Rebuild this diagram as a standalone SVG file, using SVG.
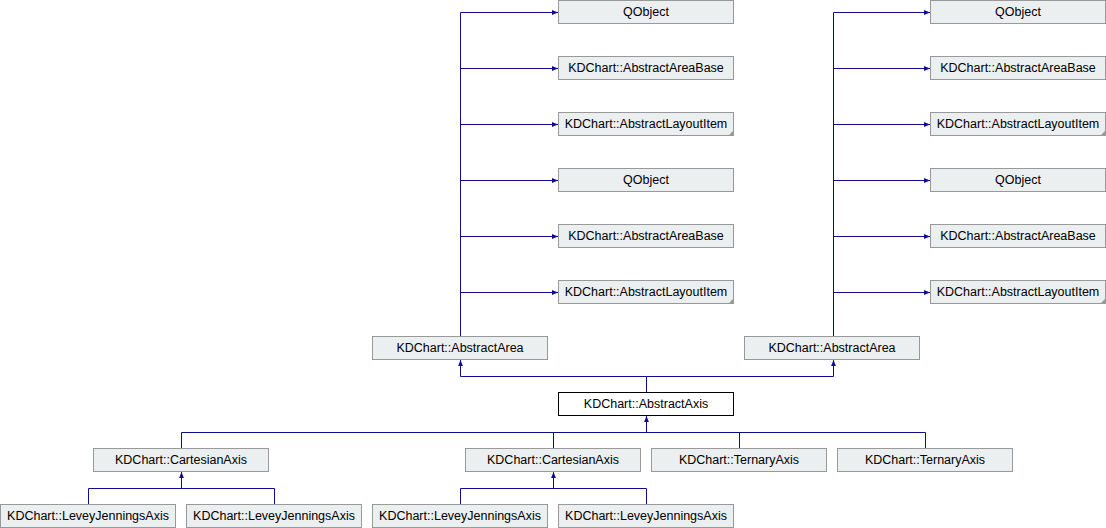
<svg xmlns="http://www.w3.org/2000/svg" width="1106" height="528" viewBox="0 0 1106 528">
<style>
.n rect{fill:#EBEFEF;stroke:#999999;stroke-width:1}
.n.cur rect{fill:#FFFFFF;stroke:#000000}
.n text{font-family:"Liberation Sans",Arial,sans-serif;font-size:12.5px;fill:#000;text-anchor:middle}
.n .fold{fill:#999999;stroke:none}
#edges path{fill:none;stroke:#0E0E8C;stroke-width:1}
</style>
<defs>
<marker id="ah" viewBox="0 0 10 8" refX="10" refY="4" markerWidth="6" markerHeight="5" markerUnits="userSpaceOnUse" orient="auto">
<path d="M0,0 L10,4 L0,8 Z" fill="#0E0E8C"/>
</marker>
</defs>
<rect width="1106" height="528" fill="#FFFFFF"/>
<g id="edges">
<path d="M460.5,336.5 V12.5 H558" marker-end="url(#ah)"/>
<path d="M460.5,68.5 H558" marker-end="url(#ah)"/>
<path d="M460.5,124.5 H558" marker-end="url(#ah)"/>
<path d="M460.5,180.5 H558" marker-end="url(#ah)"/>
<path d="M460.5,236.5 H558" marker-end="url(#ah)"/>
<path d="M460.5,292.5 H558" marker-end="url(#ah)"/>
<path d="M833.5,336.5 V12.5 H930" marker-end="url(#ah)"/>
<path d="M833.5,68.5 H930" marker-end="url(#ah)"/>
<path d="M833.5,124.5 H930" marker-end="url(#ah)"/>
<path d="M833.5,180.5 H930" marker-end="url(#ah)"/>
<path d="M833.5,236.5 H930" marker-end="url(#ah)"/>
<path d="M833.5,292.5 H930" marker-end="url(#ah)"/>
<path d="M646.5,392.5 V376.5 H460.5 V360" marker-end="url(#ah)"/>
<path d="M646.5,376.5 H833.5 V360" marker-end="url(#ah)"/>
<path d="M646.5,432.5 V416" marker-end="url(#ah)"/>
<path d="M181.5,448.5 V432.5 H925.5 V448.5"/>
<path d="M553.5,432.5 V448.5"/>
<path d="M739.5,432.5 V448.5"/>
<path d="M181.5,488.5 V472" marker-end="url(#ah)"/>
<path d="M88.5,504.5 V488.5 H274.5 V504.5"/>
<path d="M553.5,488.5 V472" marker-end="url(#ah)"/>
<path d="M460.5,504.5 V488.5 H646.5 V504.5"/>
</g>
<g id="qobject1" class="n"><rect x="558.5" y="0.5" width="175" height="23"/><text x="646" y="15.5">QObject</text></g>
<g id="areabase1" class="n"><rect x="558.5" y="56.5" width="175" height="23"/><text x="646" y="71.5">KDChart::AbstractAreaBase</text></g>
<g id="layoutitem1" class="n"><rect x="558.5" y="112.5" width="175" height="23"/><path class="fold" d="M733.5,130.5 V135.5 H728.5 Z"/><text x="646" y="127.5">KDChart::AbstractLayoutItem</text></g>
<g id="qobject2" class="n"><rect x="558.5" y="168.5" width="175" height="23"/><text x="646" y="183.5">QObject</text></g>
<g id="areabase2" class="n"><rect x="558.5" y="224.5" width="175" height="23"/><text x="646" y="239.5">KDChart::AbstractAreaBase</text></g>
<g id="layoutitem2" class="n"><rect x="558.5" y="280.5" width="175" height="23"/><path class="fold" d="M733.5,298.5 V303.5 H728.5 Z"/><text x="646" y="295.5">KDChart::AbstractLayoutItem</text></g>
<g id="qobject3" class="n"><rect x="930.5" y="0.5" width="175" height="23"/><text x="1018" y="15.5">QObject</text></g>
<g id="areabase3" class="n"><rect x="930.5" y="56.5" width="175" height="23"/><text x="1018" y="71.5">KDChart::AbstractAreaBase</text></g>
<g id="layoutitem3" class="n"><rect x="930.5" y="112.5" width="175" height="23"/><path class="fold" d="M1105.5,130.5 V135.5 H1100.5 Z"/><text x="1018" y="127.5">KDChart::AbstractLayoutItem</text></g>
<g id="qobject4" class="n"><rect x="930.5" y="168.5" width="175" height="23"/><text x="1018" y="183.5">QObject</text></g>
<g id="areabase4" class="n"><rect x="930.5" y="224.5" width="175" height="23"/><text x="1018" y="239.5">KDChart::AbstractAreaBase</text></g>
<g id="layoutitem4" class="n"><rect x="930.5" y="280.5" width="175" height="23"/><path class="fold" d="M1105.5,298.5 V303.5 H1100.5 Z"/><text x="1018" y="295.5">KDChart::AbstractLayoutItem</text></g>
<g id="area1" class="n"><rect x="372.5" y="336.5" width="175" height="23"/><text x="460" y="351.5">KDChart::AbstractArea</text></g>
<g id="area2" class="n"><rect x="744.5" y="336.5" width="175" height="23"/><text x="832" y="351.5">KDChart::AbstractArea</text></g>
<g id="abstractaxis" class="n cur"><rect x="558.5" y="392.5" width="175" height="23"/><text x="646" y="407.5">KDChart::AbstractAxis</text></g>
<g id="cartesian1" class="n"><rect x="93.5" y="448.5" width="175" height="23"/><text x="181" y="463.5">KDChart::CartesianAxis</text></g>
<g id="cartesian2" class="n"><rect x="465.5" y="448.5" width="175" height="23"/><text x="553" y="463.5">KDChart::CartesianAxis</text></g>
<g id="ternary1" class="n"><rect x="651.5" y="448.5" width="175" height="23"/><text x="739" y="463.5">KDChart::TernaryAxis</text></g>
<g id="ternary2" class="n"><rect x="837.5" y="448.5" width="175" height="23"/><text x="925" y="463.5">KDChart::TernaryAxis</text></g>
<g id="levey1" class="n"><rect x="0.5" y="504.5" width="175" height="23"/><text x="88" y="519.5">KDChart::LeveyJenningsAxis</text></g>
<g id="levey2" class="n"><rect x="186.5" y="504.5" width="175" height="23"/><text x="274" y="519.5">KDChart::LeveyJenningsAxis</text></g>
<g id="levey3" class="n"><rect x="372.5" y="504.5" width="175" height="23"/><text x="460" y="519.5">KDChart::LeveyJenningsAxis</text></g>
<g id="levey4" class="n"><rect x="558.5" y="504.5" width="175" height="23"/><text x="646" y="519.5">KDChart::LeveyJenningsAxis</text></g>
</svg>
